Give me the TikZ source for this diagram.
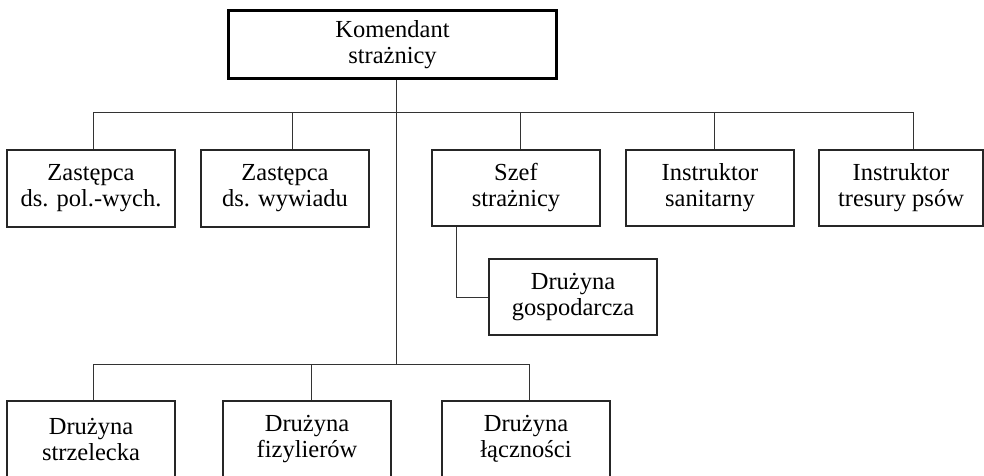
\documentclass[tikz,border=0pt]{standalone}
\usepackage{fontspec}
\setmainfont{Liberation Serif}
\begin{document}
\begin{tikzpicture}[x=1pt,y=-1pt,
  unit/.style={draw=black!85,line width=1.1pt,rectangle,inner sep=0pt,
    minimum width=168pt,minimum height=76pt,align=center,
    font=\fontsize{24.5}{26}\selectfont},
  chief/.style={unit,draw=black,line width=3.5pt,minimum width=328pt,minimum height=68pt},
  link/.style={draw=black!80,line width=1pt}]
\useasboundingbox (0,0) rectangle (984,475);
\fill[white] (0,0) rectangle (984,475);
% nodes
\node[chief] (kom) at (392.5,44.5) {Komendant\\strażnicy};
\node[unit,minimum height=77pt] (z1) at (91,188.5) {Zastępca\\ds. pol.-wych.};
\node[unit,minimum height=77pt] (z2) at (285,188.5) {Zastępca\\ds. wywiadu};
\node[unit] (szef) at (516,188) {Szef\\strażnicy};
\node[unit] (san) at (710,188) {Instruktor\\sanitarny};
\node[unit,minimum width=164pt] (tre) at (901,188) {Instruktor\\tresury psów};
\node[unit] (gos) at (573,297) {Drużyna\\gospodarcza};
\node[unit] (d1) at (91,439) {Drużyna\\strzelecka};
\node[unit] (d2) at (307,439) {Drużyna\\fizylierów};
\node[unit] (d3) at (526,439) {Drużyna\\łączności};
% junctions
\coordinate (t0) at (396,364);
\coordinate (u1) at (93,112);
\coordinate (u2) at (292,112);
\coordinate (u3) at (520,112);
\coordinate (u4) at (714,112);
\coordinate (u5) at (913,112);
\coordinate (s0) at (456,297);
\coordinate (l1) at (93,364);
\coordinate (l2) at (311,364);
\coordinate (l3) at (529,364);
% connectors
\draw[link] (kom.south -| t0) -- (t0);
\draw[link] (u1) -- (u5);
\draw[link] (u1) -- (u1 |- z1.north);
\draw[link] (u2) -- (u2 |- z2.north);
\draw[link] (u3) -- (u3 |- szef.north);
\draw[link] (u4) -- (u4 |- san.north);
\draw[link] (u5) -- (u5 |- tre.north);
\draw[link] (szef.south -| s0) -- (s0) -- (gos.west);
\draw[link] (l1) -- (l3);
\draw[link] (l1) -- (l1 |- d1.north);
\draw[link] (l2) -- (l2 |- d2.north);
\draw[link] (l3) -- (l3 |- d3.north);
\end{tikzpicture}
\end{document}
